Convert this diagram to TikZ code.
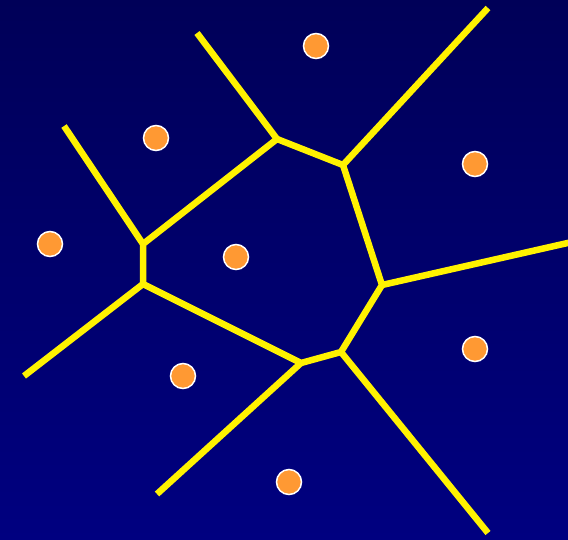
\documentclass[tikz,border=0pt]{standalone}
\definecolor{bgtop}{HTML}{000058}
\definecolor{bgbot}{HTML}{000080}
\definecolor{dotfill}{HTML}{FF9933}
\tikzset{
  edge/.style={draw=yellow, line width=6.5pt, line cap=butt, line join=round},
  site/.style={circle, fill=dotfill, draw=white, line width=1.5pt, minimum size=25pt, inner sep=0pt}
}
\begin{document}
\begin{tikzpicture}[x=1pt,y=-1pt]
\shade[top color=bgtop, bottom color=bgbot] (0,0) rectangle (568,539);
\useasboundingbox (0,0) rectangle (568,539);
% Voronoi vertices
\coordinate (A) at (277,139);
\coordinate (B) at (343,165);
\coordinate (C) at (382,285);
\coordinate (D) at (341,352);
\coordinate (E) at (301,363);
\coordinate (F) at (143,284);
\coordinate (G) at (143,244);
% ray ends
\coordinate (rA) at (197,33);
\coordinate (rB) at (488,8);
\coordinate (rC) at (572,242);
\coordinate (rD) at (488,533);
\coordinate (rE) at (157,494);
\coordinate (rF) at (24,376);
\coordinate (rG) at (64,126);
\draw[edge] (G) -- (A) -- (B) -- (C) -- (D) -- (E) -- (F) -- cycle;
\draw[edge] (A) -- (rA);
\draw[edge] (B) -- (rB);
\draw[edge] (C) -- (rC);
\draw[edge] (D) -- (rD);
\draw[edge] (E) -- (rE);
\draw[edge] (F) -- (rF);
\draw[edge] (G) -- (rG);
% sites
\node[site] (s1) at (316,46) {};
\node[site] (s2) at (156,138) {};
\node[site] (s3) at (475,164) {};
\node[site] (s4) at (50,244) {};
\node[site] (s5) at (236,257) {};
\node[site] (s6) at (475,349) {};
\node[site] (s7) at (183,376) {};
\node[site] (s8) at (289,482) {};
\end{tikzpicture}
\end{document}
